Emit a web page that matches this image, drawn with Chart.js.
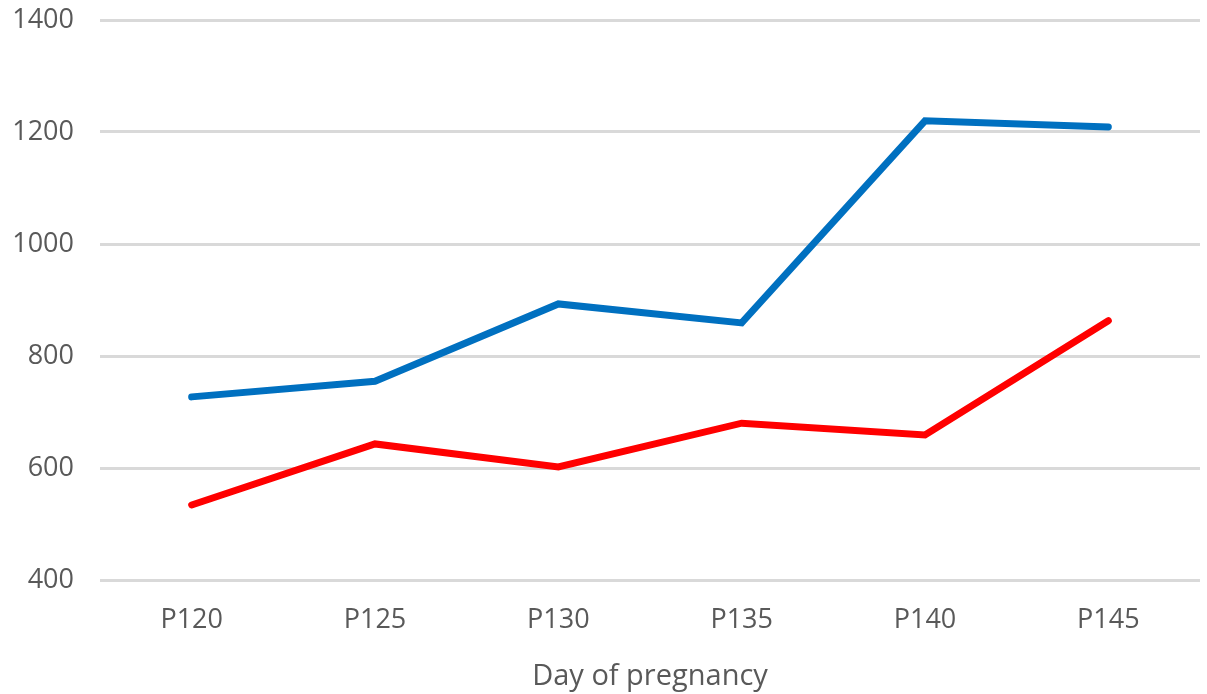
<!DOCTYPE html>
<html>
<head>
<meta charset="utf-8">
<script src="https://cdn.jsdelivr.net/npm/chart.js@4"></script>
<style>
  html, body { margin: 0; padding: 0; background: #fff; }
  #wrap { width: 1207px; height: 694px; }
</style>
</head>
<body>
<div id="wrap"><canvas id="chart1"></canvas></div>
<script>
// données
const days = ["P120", "P125", "P130", "P135", "P140", "P145"];
const blueValues = [727, 755, 893, 859, 1220, 1209];
const redValues = [534, 643, 602, 680, 659, 863];
const yTicks = [400, 600, 800, 1000, 1200, 1400];

Chart.defaults.font.family = "'Open Sans', 'Liberation Sans', sans-serif";
Chart.defaults.color = "#595959";

const ctx0 = document.getElementById("chart1");

const chart = new Chart(ctx0, {
    type: "line",
    data: {
        labels: days,
        datasets: [
            {
                data: blueValues,
                borderColor: "#0070C0",
                backgroundColor: "#0070C0",
                borderWidth: 7,
                borderCapStyle: "round",
                borderJoinStyle: "miter",
                pointRadius: 0,
                tension: 0
            },
            {
                data: redValues,
                borderColor: "#FF0000",
                backgroundColor: "#FF0000",
                borderWidth: 7,
                borderCapStyle: "round",
                borderJoinStyle: "miter",
                pointRadius: 0,
                tension: 0
            }
        ]
    },
    options: {
        animation: false,
        responsive: true,
        maintainAspectRatio: false,
        layout: {
            padding: { top: 20, right: 7, bottom: 0, left: 0 }
        },
        plugins: {
            legend: { display: false },
            tooltip: { enabled: false }
        },
        scales: {
            x: {
                offset: true,
                grid: { display: false, drawTicks: false },
                border: { display: false },
                ticks: { font: { size: 27 }, padding: 24 },
                title: {
                    display: true,
                    text: "Day of pregnancy",
                    font: { size: 29 },
                    padding: { top: 10, bottom: 0 }
                },
                afterFit: (scale) => { scale.height = 114; }
            },
            y: {
                min: 400,
                max: 1400,
                afterBuildTicks: (scale) => {
                    scale.ticks = yTicks.map(v => ({ value: v }));
                },
                grid: { color: "#D9D9D9", lineWidth: 3, drawTicks: false },
                border: { display: false },
                ticks: {
                    font: { size: 27 },
                    padding: 26,
                    callback: (v) => String(v)
                },
                afterFit: (scale) => {
                    scale.width = 100;
                    scale.paddingTop = 0;
                    scale.paddingBottom = 0;
                }
            }
        }
    }
});
</script>
</body>
</html>
